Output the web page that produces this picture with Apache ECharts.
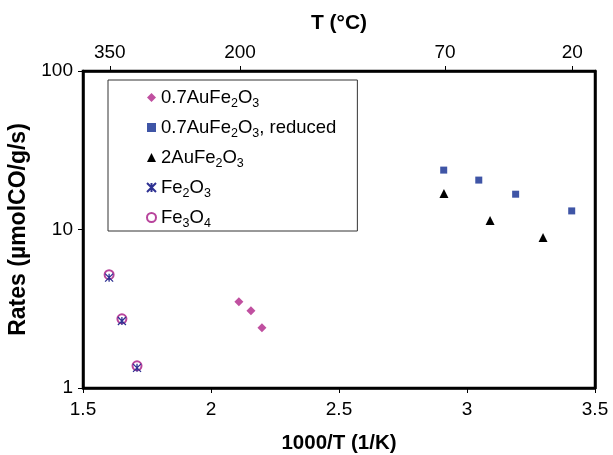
<!DOCTYPE html>
<html>
<head>
<meta charset="utf-8">
<script src="https://cdn.jsdelivr.net/npm/echarts@6/dist/echarts.min.js"></script>
<style>html,body{margin:0;padding:0;background:#fff}#c{width:613px;height:455px}</style>
</head>
<body>
<div id="c"></div>
<script>
// Data (x = 1000/T in 1/K, y = rate in µmolCO/g/s)
const au07X = [2.109, 2.156, 2.199];
const au07Y = [3.50, 3.07, 2.40];
const au07RedX = [2.909, 3.046, 3.190, 3.409];
const au07RedY = [23.7, 20.5, 16.7, 13.1];
const au2X = [2.910, 3.090, 3.297];
const au2Y = [16.9, 11.4, 8.9];
const fe2o3X = [1.602, 1.652, 1.711];
const fe2o3Y = [4.97, 2.65, 1.34];
const fe3o4X = [1.602, 1.652, 1.711];
const fe3o4Y = [5.19, 2.73, 1.38];
const topTempLabels = [350, 200, 70, 20];
const seriesNames = ['0.7AuFe2O3', '0.7AuFe2O3, reduced', '2AuFe2O3', 'Fe2O3', 'Fe3O4'];

const zip = (xs, ys) => xs.map((x, i) => [x, ys[i]]);
const topVals = topTempLabels.map(t => 1000 / (t + 273.15));
const FONT = 'Liberation Sans, Arial, sans-serif';

const legendFmt = {
  '0.7AuFe2O3': '0.7AuFe{sub|2}O{sub|3}',
  '0.7AuFe2O3, reduced': '0.7AuFe{sub|2}O{sub|3}, reduced',
  '2AuFe2O3': '2AuFe{sub|2}O{sub|3}',
  'Fe2O3': 'Fe{sub|2}O{sub|3}',
  'Fe3O4': 'Fe{sub|3}O{sub|4}'
};

const chart = echarts.init(document.getElementById('c'), null, {renderer: 'canvas'});
chart.setOption({
  animation: false,
  backgroundColor: '#fff',
  grid: {left: 83, right: 18, top: 71, bottom: 67, outerBoundsMode: 'none', containLabel: false,
    show: true, borderColor: '#000', borderWidth: 2.5, backgroundColor: 'transparent'},
  legend: {
    orient: 'vertical',
    left: 108, top: 80,
    padding: [5, 21, 1, 38],
    itemGap: 5,
    itemWidth: 9, itemHeight: 9,
    borderColor: '#333', borderWidth: 1,
    backgroundColor: '#fff',
    data: seriesNames,
    formatter: n => legendFmt[n],
    textStyle: {
      fontFamily: FONT, fontSize: 18.5, color: '#000', lineHeight: 21,
      rich: {sub: {fontFamily: FONT, fontSize: 12.5, color: '#000', lineHeight: 21, padding: [12, 0, 0, 0]}}
    }
  },
  xAxis: [{
    type: 'value', position: 'bottom', min: 1.5, max: 3.5, interval: 0.5,
    name: '1000/T (1/K)', nameLocation: 'middle', nameGap: 45,
    nameTextStyle: {fontFamily: FONT, fontSize: 20.5, fontWeight: 'bold', color: '#000'},
    axisLine: {show: true, lineStyle: {color: '#000', width: 2.5}},
    axisTick: {show: true, inside: false, length: 5, lineStyle: {color: '#000'}},
    axisLabel: {fontFamily: FONT, fontSize: 19, color: '#000', margin: 12},
    splitLine: {show: false}
  }, {
    type: 'value', position: 'top', min: 1.5, max: 3.5,
    name: 'T (°C)', nameLocation: 'middle', nameGap: 37,
    nameTextStyle: {fontFamily: FONT, fontSize: 21, fontWeight: 'bold', color: '#000'},
    axisLine: {show: true, lineStyle: {color: '#000', width: 2.5}},
    axisTick: {show: true, inside: false, length: 5, customValues: topVals, lineStyle: {color: '#000'}},
    axisLabel: {fontFamily: FONT, fontSize: 19, color: '#000', margin: 9, customValues: topVals,
      formatter: v => String(Math.round(1000 / v - 273.15))},
    splitLine: {show: false}
  }],
  yAxis: [{
    type: 'log', logBase: 10, min: 1, max: 100,
    name: 'Rates (µmolCO/g/s)', nameLocation: 'middle', nameGap: 48, nameRotate: 90,
    nameTextStyle: {fontFamily: FONT, fontSize: 23, fontWeight: 'bold', color: '#000'},
    axisLine: {show: true, lineStyle: {color: '#000', width: 2.5}},
    axisTick: {show: true, inside: false, length: 5, lineStyle: {color: '#000'}},
    minorTick: {show: false},
    axisLabel: {fontFamily: FONT, fontSize: 19, color: '#000', margin: 10},
    splitLine: {show: false}
  }, {
    type: 'log', logBase: 10, min: 1, max: 100, position: 'right',
    axisLine: {show: true, lineStyle: {color: '#000', width: 2.5}},
    axisTick: {show: false}, axisLabel: {show: false}, splitLine: {show: false}
  }],
  series: [{
    name: seriesNames[0], type: 'scatter', data: zip(au07X, au07Y),
    symbol: 'diamond', symbolSize: 9, itemStyle: {color: '#C050A0', opacity: 1}
  }, {
    name: seriesNames[1], type: 'scatter', data: zip(au07RedX, au07RedY),
    symbol: 'rect', symbolSize: 7, itemStyle: {color: '#3F55A6', opacity: 1}
  }, {
    name: seriesNames[2], type: 'scatter', data: zip(au2X, au2Y),
    symbol: 'triangle', symbolSize: 9, itemStyle: {color: '#000', opacity: 1}
  }, {
    name: seriesNames[4], type: 'scatter', data: zip(fe3o4X, fe3o4Y),
    symbol: 'emptyCircle', symbolSize: 9, itemStyle: {color: '#B8449C', borderWidth: 1.3, opacity: 1}
  }, {
    name: seriesNames[3], type: 'scatter', data: zip(fe2o3X, fe2o3Y),
    symbol: 'path://M0,0 L10,10 M10,0 L0,10 M5,0 L5,10', symbolSize: 8,
    itemStyle: {color: 'rgba(0,0,0,0)', borderColor: '#2E3192', borderWidth: 1.3, opacity: 1}
  }]
});
</script>
</body>
</html>
